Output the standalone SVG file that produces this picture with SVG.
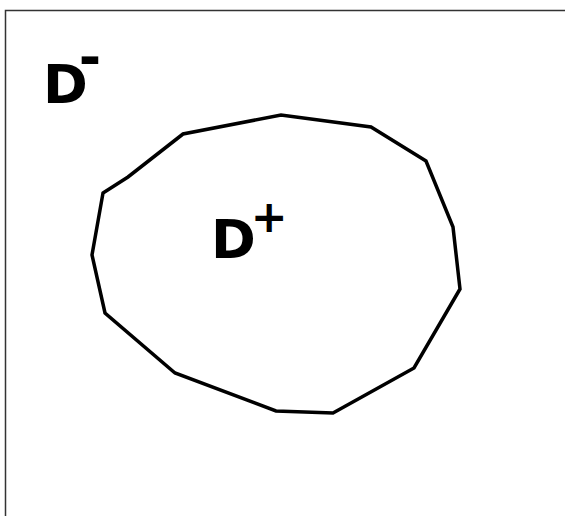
<svg xmlns="http://www.w3.org/2000/svg" width="565" height="516" viewBox="0 0 565 516">
<style>
.lbl{font-family:"DejaVu Sans",Verdana,sans-serif;font-weight:bold;font-size:54px;fill:#000}
.shape{fill:none;stroke:#000;stroke-width:3.5;stroke-linejoin:miter}
</style>
<rect x="0" y="0" width="565" height="516" fill="#fff"/>
<rect x="5.5" y="10.5" width="600" height="600" fill="none" stroke="#333" stroke-width="1.5"/>
<g id="region">
<polygon class="shape" points="103,193 128,177 183,134 281,115 371,127 426,161 453,227 460,289 414,368 333,413 276,411 175,373 105,313 92,255"/>
</g>
<g id="label-dminus">
<text class="lbl" x="43" y="103">D<tspan dx="-10" dy="-27">-</tspan></text>
</g>
<g id="label-dplus">
<text class="lbl" x="211" y="258">D<tspan dx="-5" dy="-26" font-size="44">+</tspan></text>
</g>
</svg>
